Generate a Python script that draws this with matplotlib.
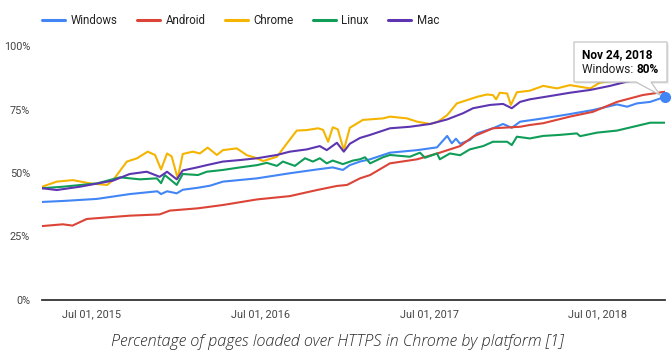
import numpy as np
import matplotlib
matplotlib.use("Agg")
import matplotlib.pyplot as plt
from matplotlib.patches import Polygon

plt.rcParams['font.family'] = ['Roboto', 'DejaVu Sans']

W, H = 671, 355

# ---------------- data ----------------
series_names = ["Windows", "Android", "Chrome", "Linux", "Mac"]
series_colors = ["#4285f4", "#db4437", "#f4b400", "#0f9d58", "#5e35b1"]

windows_dates = ["2015-03-15", "2015-05-01", "2015-07-12", "2015-09-21", "2015-11-20", "2015-11-28",
                 "2015-12-11", "2016-01-01", "2016-01-14", "2016-02-16", "2016-03-13", "2016-04-10",
                 "2016-06-23", "2016-09-02", "2016-10-31", "2016-12-04", "2016-12-26", "2017-01-10",
                 "2017-02-01", "2017-02-23", "2017-04-07", "2017-06-05", "2017-07-18", "2017-08-09",
                 "2017-08-19", "2017-08-28", "2017-09-06", "2017-09-27", "2017-10-13", "2017-11-16",
                 "2017-12-08", "2017-12-27", "2018-01-14", "2018-03-05", "2018-05-02", "2018-06-21",
                 "2018-08-12", "2018-09-03", "2018-09-24", "2018-10-23", "2018-11-24"]
windows_vals = [38.6, 39.0, 39.8, 41.7, 42.8, 41.7,
                42.8, 42.0, 43.4, 44.2, 45.0, 46.6,
                47.9, 49.9, 51.4, 52.2, 51.2, 53.1,
                54.5, 55.4, 58.0, 59.0, 60.1, 64.6,
                61.7, 63.5, 61.5, 63.0, 65.6, 67.6,
                69.3, 67.8, 70.2, 71.5, 73.2, 74.8,
                77.0, 76.1, 77.4, 78.0, 80.0]

android_dates = ["2015-03-15", "2015-04-29", "2015-05-20", "2015-06-20", "2015-09-21", "2015-11-25",
                 "2015-12-17", "2016-02-16", "2016-04-10", "2016-06-23", "2016-09-02", "2016-10-31",
                 "2016-12-13", "2017-01-04", "2017-02-01", "2017-02-23", "2017-04-07", "2017-06-05",
                 "2017-07-24", "2017-09-06", "2017-10-04", "2017-11-16", "2018-01-14", "2018-02-04",
                 "2018-03-05", "2018-05-02", "2018-06-21", "2018-08-12", "2018-10-07", "2018-11-24"]
android_vals = [29.1, 29.8, 29.3, 31.9, 33.2, 33.7,
                35.2, 36.1, 37.4, 39.6, 40.9, 43.3,
                44.9, 45.3, 47.9, 49.2, 53.8, 55.4,
                58.0, 60.6, 64.3, 67.6, 68.2, 68.9,
                69.6, 72.2, 74.1, 78.0, 80.7, 82.0]

chrome_dates = ["2015-03-15", "2015-04-16", "2015-05-21", "2015-06-27", "2015-08-03", "2015-08-16",
                "2015-09-15", "2015-10-07", "2015-10-30", "2015-11-15", "2015-11-28", "2015-12-11",
                "2015-12-21", "2016-01-03", "2016-01-14", "2016-02-05", "2016-02-20", "2016-03-08",
                "2016-03-28", "2016-04-10", "2016-05-10", "2016-06-01", "2016-06-23", "2016-07-06",
                "2016-08-05", "2016-08-27", "2016-09-17", "2016-10-09", "2016-11-02", "2016-11-13",
                "2016-11-24", "2016-12-04", "2016-12-15", "2016-12-28", "2017-01-10", "2017-02-01",
                "2017-02-07", "2017-03-23", "2017-04-07", "2017-05-14", "2017-06-05", "2017-07-03",
                "2017-07-20", "2017-08-09", "2017-08-30", "2017-09-21", "2017-10-13", "2017-11-03",
                "2017-11-16", "2017-11-23", "2017-12-01", "2017-12-17", "2017-12-25", "2018-01-07",
                "2018-02-04", "2018-03-05", "2018-04-04", "2018-05-02", "2018-06-15", "2018-07-06",
                "2018-08-12", "2018-10-07", "2018-11-24"]
chrome_vals = [44.6, 46.6, 47.2, 45.9, 45.3, 47.2,
               54.5, 55.8, 58.4, 57.1, 51.4, 57.7,
               56.5, 47.9, 57.5, 58.4, 57.7, 60.0,
               57.1, 59.0, 59.7, 57.0, 55.8, 54.7,
               56.4, 61.7, 66.7, 66.9, 67.6, 67.0,
               62.3, 68.0, 67.2, 59.0, 67.8, 70.2,
               70.9, 71.5, 72.2, 71.5, 70.2, 69.3,
               70.2, 72.8, 77.4, 78.7, 80.0, 80.9,
               80.7, 79.0, 81.6, 81.3, 76.8, 81.8,
               82.4, 84.3, 83.3, 84.6, 83.3, 85.6,
               86.5, 87.5, 88.0]

linux_dates = ["2015-03-15", "2015-04-29", "2015-07-12", "2015-08-31", "2015-10-13", "2015-11-19",
               "2015-11-28", "2015-12-06", "2016-01-01", "2016-01-14", "2016-02-16", "2016-03-06",
               "2016-04-10", "2016-05-17", "2016-06-23", "2016-07-14", "2016-08-05", "2016-08-18",
               "2016-09-13", "2016-10-05", "2016-10-22", "2016-11-06", "2016-11-21", "2016-12-04",
               "2016-12-26", "2017-01-17", "2017-02-01", "2017-02-12", "2017-02-23", "2017-03-23",
               "2017-04-07", "2017-05-20", "2017-06-11", "2017-06-22", "2017-07-18", "2017-07-24",
               "2017-08-15", "2017-09-06", "2017-09-27", "2017-10-26", "2017-11-16", "2017-12-17",
               "2017-12-27", "2018-01-07", "2018-02-04", "2018-03-05", "2018-04-10", "2018-05-17",
               "2018-05-24", "2018-06-30", "2018-08-12", "2018-09-16", "2018-10-23", "2018-11-24"]
linux_vals = [44.0, 44.6, 45.9, 48.3, 47.5, 47.9,
              46.0, 49.2, 45.3, 49.6, 49.2, 50.5,
              51.2, 52.2, 53.1, 54.0, 52.8, 54.5,
              52.8, 55.8, 54.5, 55.8, 53.8, 54.9,
              53.5, 54.9, 55.4, 56.2, 53.8, 56.2,
              57.1, 56.4, 58.0, 56.0, 57.7, 55.4,
              57.7, 57.0, 59.3, 60.6, 62.3, 62.3,
              61.0, 64.3, 63.6, 64.6, 65.0, 65.6,
              64.5, 65.9, 66.7, 68.2, 69.8, 69.8]

mac_dates = ["2015-03-15", "2015-04-16", "2015-06-05", "2015-08-16", "2015-09-21", "2015-10-28",
             "2015-11-25", "2015-12-11", "2016-01-01", "2016-01-14", "2016-02-14", "2016-03-06",
             "2016-04-10", "2016-05-17", "2016-06-23", "2016-08-05", "2016-09-02", "2016-10-09",
             "2016-11-06", "2016-11-21", "2016-12-13", "2016-12-28", "2017-01-10", "2017-02-01",
             "2017-02-23", "2017-04-07", "2017-05-20", "2017-07-03", "2017-08-09", "2017-09-12",
             "2017-10-04", "2017-11-10", "2017-12-08", "2017-12-27", "2018-01-14", "2018-02-04",
             "2018-03-20", "2018-05-02", "2018-06-15", "2018-07-28", "2018-09-03", "2018-10-07",
             "2018-11-24"]
mac_vals = [44.0, 43.3, 44.6, 47.0, 49.6, 50.5,
            48.5, 50.5, 47.5, 51.0, 52.2, 53.1,
            54.5, 55.1, 55.8, 57.1, 58.4, 59.3,
            60.6, 59.0, 61.9, 58.4, 61.5, 63.8,
            65.0, 67.6, 68.2, 69.3, 71.1, 73.5,
            75.5, 76.8, 77.2, 75.5, 78.0, 79.0,
            80.3, 81.6, 82.7, 84.3, 86.0, 87.0,
            88.0]

x_tick_dates = ["2015-07-01", "2016-07-01", "2017-07-01", "2018-07-01"]
x_tick_labels = ["Jul 01, 2015", "Jul 01, 2016", "Jul 01, 2017", "Jul 01, 2018"]
y_ticks = [0, 25, 50, 75, 100]
y_tick_labels = ["0%", "25%", "50%", "75%", "100%"]

tooltip_date = "Nov 24, 2018"
tooltip_series = "Windows"
tooltip_value = "80%"
caption = "Percentage of pages loaded over HTTPS in Chrome by platform [1]"

# ---------------- figure ----------------
def px(x, y):
    return (x / W, 1 - y / H)

fig = plt.figure(figsize=(W / 100, H / 100), dpi=100)
fig.patch.set_facecolor("white")
left, right, top, bottom = 42, 665, 46, 300
ax = fig.add_axes([left / W, 1 - bottom / H, (right - left) / W, (bottom - top) / H])

all_dates = [windows_dates, android_dates, chrome_dates, linux_dates, mac_dates]
all_vals = [windows_vals, android_vals, chrome_vals, linux_vals, mac_vals]
for name, col, d, v in zip(series_names, series_colors, all_dates, all_vals):
    ax.plot(np.array(d, dtype="datetime64[D]"), v, color=col, lw=1.5, label=name,
            solid_joinstyle="round", solid_capstyle="round")

# highlighted point
ax.plot(np.array([windows_dates[-1]], dtype="datetime64[D]"), [windows_vals[-1]], "o",
        color=series_colors[0], ms=7, zorder=5, clip_on=False)

ax.set_xlim(np.datetime64(windows_dates[0]), np.datetime64(windows_dates[-1]))
ax.set_ylim(0, 100)
ax.set_xticks(np.array(x_tick_dates, dtype="datetime64[D]"))
ax.set_xticklabels(x_tick_labels)
ax.set_yticks(y_ticks)
ax.set_yticklabels(y_tick_labels)
ax.tick_params(axis="both", length=0, labelsize=7.8, colors="#444444")
ax.tick_params(axis="x", pad=6.5)
ax.tick_params(axis="y", pad=8.5)
for s in ["top", "right", "left"]:
    ax.spines[s].set_visible(False)
ax.spines["bottom"].set_color("#333333")
ax.spines["bottom"].set_linewidth(1.3)
ax.set_facecolor("white")

# legend
leg = fig.legend(loc="center left", bbox_to_anchor=px(42, 20.7), ncol=5, frameon=False,
                 fontsize=8.3, handlelength=2.0, handletextpad=0.5, columnspacing=1.65,
                 borderaxespad=0, borderpad=0)
for t in leg.get_texts():
    t.set_color("#222222")
for l in leg.get_lines():
    l.set_linewidth(2.2)

# tooltip
box = [(574, 42), (667, 42), (667, 82), (651, 82), (660, 95), (636, 82), (574, 82)]
shadow = Polygon([px(x + 1.5, y + 1.5) for x, y in box], closed=True, transform=fig.transFigure,
                 facecolor="#000000", alpha=0.12, edgecolor="none", zorder=9)
tip = Polygon([px(x, y) for x, y in box], closed=True, transform=fig.transFigure,
              facecolor="white", edgecolor="#c4c4c4", lw=0.9, zorder=10)
fig.add_artist(shadow)
fig.add_artist(tip)
fig.text(*px(582, 54.5), tooltip_date, fontsize=8.6, fontweight="bold", color="#000000",
         va="center", ha="left", zorder=11)
t1 = fig.text(*px(582, 69.5), tooltip_series + ": ", fontsize=8.6, color="#222222",
              va="center", ha="left", zorder=11)
fig.canvas.draw()
bb = t1.get_window_extent()
fig.text(bb.x1 / W, 1 - 69.5 / H, tooltip_value, fontsize=8.6, fontweight="bold",
         color="#000000", va="center", ha="left", zorder=11)

# caption (scaled to the reference's text width of ~450 px)
cap = fig.text(*px(337, 341.5), caption, fontsize=10, style="italic", fontweight="light",
               family=["Open Sans", "DejaVu Sans"], color="#2a2a2a", ha="center", va="center")
fig.canvas.draw()
cw = cap.get_window_extent().width
cap.set_fontsize(10 * 450 / cw)

fig.savefig("out.png", dpi=100, facecolor="white")
